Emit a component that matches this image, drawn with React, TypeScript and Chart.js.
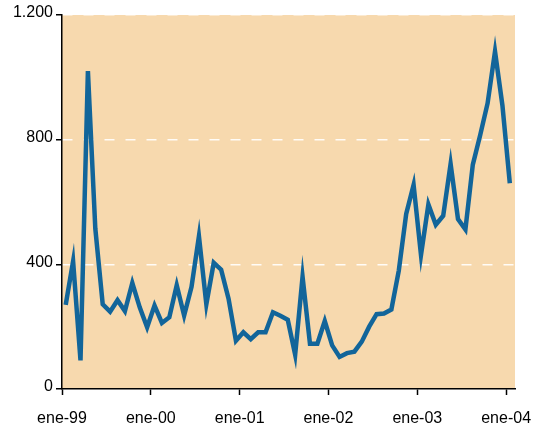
import React, { useEffect, useRef } from "react";
import { Chart, registerables } from "chart.js";

Chart.register(...registerables);

// Monthly values, Jan 1999 .. Jan 2004
const values: number[] = [
  270, 410, 92, 1020, 515, 272, 248, 285, 250, 340, 262, 198,
  268, 212, 230, 333, 236, 328, 490, 272, 405, 383, 290, 155,
  182, 160, 182, 182, 246, 235, 222, 110, 360, 145, 145, 218,
  140, 103, 115, 120, 152, 200, 240, 242, 255, 380, 562, 655,
  430, 592, 527, 556, 722, 545, 512, 720, 815, 917, 1083, 910,
  660,
];
const xTickLabels: string[] = ["ene-99", "ene-00", "ene-01", "ene-02", "ene-03", "ene-04"];
const xTickMonths: number[] = [0, 12, 24, 36, 48, 60];
const yTickValues: number[] = [0, 400, 800, 1200];
const yTickLabels: string[] = ["0", "400", "800", "1.200"];

const BG = "#F7D9AE";
const LINE = "#12659A";

const bgPlugin = {
  id: "plotBg",
  beforeDraw(chart: any) {
    const { ctx, chartArea } = chart;
    ctx.save();
    ctx.fillStyle = BG;
    ctx.fillRect(chartArea.left, chartArea.top, chartArea.right - chartArea.left, chartArea.bottom - chartArea.top);
    ctx.restore();
  },
};

export default function App() {
  const ref = useRef<HTMLCanvasElement | null>(null);
  useEffect(() => {
    if (!ref.current) return;
    const chart = new Chart(ref.current, {
      type: "line",
      data: {
        datasets: [
          {
            data: values.map((v, i) => ({ x: i + 0.5, y: v })),
            borderColor: LINE,
            borderWidth: 4.5,
            pointRadius: 0,
            tension: 0,
            fill: false,
          },
        ],
      },
      options: {
        responsive: false,
        animation: false,
        layout: { padding: { top: 15, right: 29, left: 0, bottom: 0 } },
        plugins: { legend: { display: false }, tooltip: { enabled: false } },
        scales: {
          x: {
            type: "linear",
            min: 0,
            max: 61.2,
            afterFit: (s: any) => {
              s.height = 35;
              s.paddingLeft = 0;
              s.paddingRight = 0;
            },
            afterBuildTicks: (s: any) => { s.ticks = xTickMonths.map((v) => ({ value: v })); },
            ticks: {
              color: "#000",
              padding: 14,
              maxRotation: 0,
              autoSkip: false,
              font: { family: "'Liberation Sans', Arial, sans-serif", size: 16 },
              callback: (v: any) => {
                const idx = xTickMonths.indexOf(Number(v));
                return idx >= 0 ? xTickLabels[idx] : "";
              },
            },
            grid: {
              drawOnChartArea: false,
              drawTicks: true,
              tickLength: 6,
              tickColor: "#000",
              tickWidth: 1.5,
            },
            border: { display: true, color: "#000", width: 1.5 },
          },
          y: {
            type: "linear",
            min: 0,
            max: 1200,
            afterFit: (s: any) => {
              s.width = 62;
              s.paddingTop = 0;
              s.paddingBottom = 0;
            },
            afterBuildTicks: (s: any) => { s.ticks = yTickValues.map((v) => ({ value: v })); },
            ticks: {
              color: "#000",
              padding: 3,
              labelOffset: -2,
              font: { family: "'Liberation Sans', Arial, sans-serif", size: 16 },
              callback: (v: any) => {
                const idx = yTickValues.indexOf(Number(v));
                return idx >= 0 ? yTickLabels[idx] : "";
              },
            },
            grid: {
              color: (ctx: any) => (ctx.tick && ctx.tick.value === 0 ? "rgba(0,0,0,0)" : "rgba(255,255,255,0.9)"),
              lineWidth: 1.5,
              drawTicks: true,
              tickLength: 6,
              tickColor: "#000",
              tickWidth: 1.5,
            },
            border: { display: true, color: "#000", width: 1.5, dash: [10, 11] },
          },
        },
      },
      plugins: [bgPlugin],
    });
    return () => chart.destroy();
  }, []);
  return (
    <div style={{ position: "absolute", left: 0, top: 0, width: 544, height: 424, background: "#fff" }}>
      <canvas ref={ref} width={544} height={424} style={{ display: "block" }} />
    </div>
  );
}
